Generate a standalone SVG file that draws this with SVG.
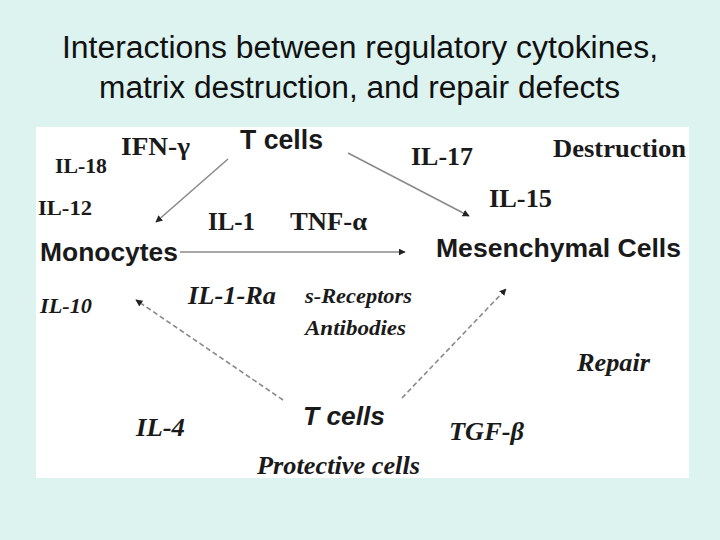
<svg xmlns="http://www.w3.org/2000/svg" width="720" height="540" viewBox="0 0 720 540">
<defs>
<style>
.title{font-family:"Liberation Sans",Arial,sans-serif;font-size:31px;fill:#111}
.sb{font-family:"Liberation Sans",Arial,sans-serif;font-weight:bold;fill:#1a1a1a}
.rb{font-family:"Liberation Serif","Times New Roman",serif;font-weight:bold;fill:#1a1a1a}
.ri{font-family:"Liberation Serif","Times New Roman",serif;font-weight:bold;font-style:italic;fill:#1a1a1a}
.si{font-family:"Liberation Sans",Arial,sans-serif;font-weight:bold;font-style:italic;fill:#1a1a1a}
.ln{stroke:#8a8a8a;stroke-width:1.6;fill:none}
.dash{stroke-dasharray:5 3}
</style>
<marker id="ah" viewBox="0 0 10 10" refX="9" refY="5" markerWidth="7" markerHeight="7" markerUnits="userSpaceOnUse" orient="auto">
<path d="M0,0 L10,5 L0,10 z" fill="#222"/>
</marker>
</defs>
<rect width="720" height="540" fill="#ddf3f0"/>
<rect x="36" y="127" width="653" height="351" fill="#ffffff"/>
<g id="title">
<text class="title" x="62" y="58" textLength="596" lengthAdjust="spacingAndGlyphs">Interactions between regulatory cytokines,</text>
<text class="title" x="99" y="98" textLength="521" lengthAdjust="spacingAndGlyphs">matrix destruction, and repair defects</text>
</g>
<g id="connectors">
<line class="ln" x1="228" y1="159" x2="156" y2="222" marker-end="url(#ah)"/>
<line class="ln" x1="348" y1="153" x2="469" y2="216" marker-end="url(#ah)"/>
<line class="ln" x1="180" y1="252" x2="405" y2="252" marker-end="url(#ah)"/>
<line class="ln dash" x1="283" y1="400" x2="136" y2="300" marker-end="url(#ah)"/>
<line class="ln dash" x1="402" y1="398" x2="506" y2="289" marker-end="url(#ah)"/>
</g>
<g id="tcells-top"><text class="sb" x="240" y="149" font-size="27" textLength="83" lengthAdjust="spacingAndGlyphs">T cells</text></g>
<g id="monocytes"><text class="sb" x="40" y="261" font-size="26" textLength="138" lengthAdjust="spacingAndGlyphs">Monocytes</text></g>
<g id="mesenchymal"><text class="sb" x="436" y="257" font-size="26" textLength="245" lengthAdjust="spacingAndGlyphs">Mesenchymal Cells</text></g>
<g id="tcells-bottom"><text class="si" x="303" y="425" font-size="26" textLength="82" lengthAdjust="spacingAndGlyphs">T cells</text></g>
<g id="labels">
<text class="rb" x="121" y="155" font-size="26" textLength="69" lengthAdjust="spacingAndGlyphs">IFN-γ</text>
<text class="rb" x="55" y="173" font-size="22" textLength="52" lengthAdjust="spacingAndGlyphs">IL-18</text>
<text class="rb" x="38" y="215" font-size="22" textLength="54" lengthAdjust="spacingAndGlyphs">IL-12</text>
<text class="rb" x="208" y="230" font-size="25" textLength="47" lengthAdjust="spacingAndGlyphs">IL-1</text>
<text class="rb" x="290" y="230" font-size="26" textLength="77" lengthAdjust="spacingAndGlyphs">TNF-α</text>
<text class="rb" x="411" y="165" font-size="26" textLength="62" lengthAdjust="spacingAndGlyphs">IL-17</text>
<text class="rb" x="553" y="157" font-size="26" textLength="133" lengthAdjust="spacingAndGlyphs">Destruction</text>
<text class="rb" x="489" y="207" font-size="26" textLength="63" lengthAdjust="spacingAndGlyphs">IL-15</text>
<text class="ri" x="40" y="313" font-size="22" textLength="52" lengthAdjust="spacingAndGlyphs">IL-10</text>
<text class="ri" x="188" y="304" font-size="26" textLength="88" lengthAdjust="spacingAndGlyphs">IL-1-Ra</text>
<text class="ri" x="305" y="303" font-size="22" textLength="107" lengthAdjust="spacingAndGlyphs">s-Receptors</text>
<text class="ri" x="305" y="335" font-size="22" textLength="101" lengthAdjust="spacingAndGlyphs">Antibodies</text>
<text class="ri" x="577" y="371" font-size="26" textLength="73" lengthAdjust="spacingAndGlyphs">Repair</text>
<text class="ri" x="136" y="436" font-size="26" textLength="49" lengthAdjust="spacingAndGlyphs">IL-4</text>
<text class="ri" x="449" y="440" font-size="26" textLength="75" lengthAdjust="spacingAndGlyphs">TGF-β</text>
<text class="ri" x="257" y="474" font-size="26" textLength="163" lengthAdjust="spacingAndGlyphs">Protective cells</text>
</g>
</svg>
